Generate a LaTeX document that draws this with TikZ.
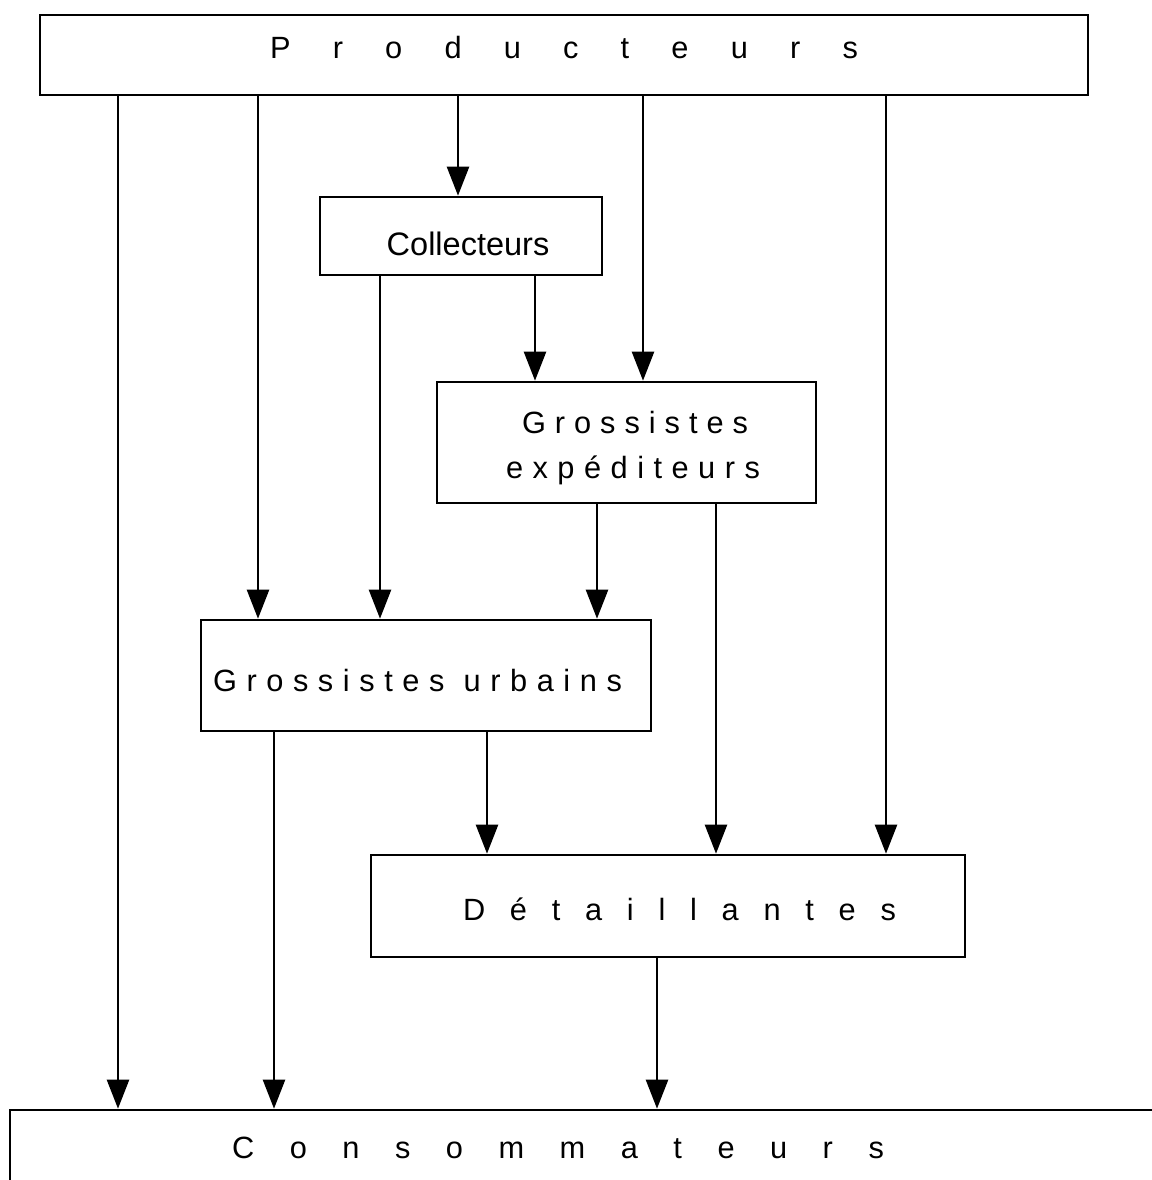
\documentclass[tikz,border=0pt]{standalone}
\usepackage{fontspec}
\setmainfont{Liberation Sans}
\usetikzlibrary{arrows.meta}
\begin{document}
\begin{tikzpicture}[x=0.02cm,y=-0.02cm,
  box/.style={draw,line width=1.5pt,rectangle,inner sep=0pt},
  lbl/.style={anchor=base,inner sep=0pt,font=\fontsize{17.5}{19}\selectfont},
  arr/.style={line width=1.4pt,-{Triangle[length=0.58cm,width=0.44cm]}}]
\useasboundingbox (0,0) rectangle (1152,1180);
% boxes
\node[box,minimum width=20.96cm,minimum height=1.6cm] (prod) at (564,55) {};
\node[box,minimum width=5.64cm,minimum height=1.56cm] (coll) at (461,236) {};
\node[box,minimum width=7.58cm,minimum height=2.42cm] (exp) at (626.5,442.5) {};
\node[box,minimum width=9.0cm,minimum height=2.22cm] (urb) at (426,675.5) {};
\node[box,minimum width=11.88cm,minimum height=2.04cm] (det) at (668,906) {};
\node[box,minimum width=24cm,minimum height=2.8cm] (cons) at (610,1180) {};
% labels
\node[lbl] (tprod) at (564,58) {\makebox[11.76cm][s]{P\hfill r\hfill o\hfill d\hfill u\hfill c\hfill t\hfill e\hfill u\hfill r\hfill s}};
\node[lbl,font=\fontsize{18.5}{20}\selectfont] (tcoll) at (468,255) {Collecteurs};
\node[lbl] (texp1) at (635,433) {\makebox[4.52cm][s]{G\hfill r\hfill o\hfill s\hfill s\hfill i\hfill s\hfill t\hfill e\hfill s}};
\node[lbl] (texp2) at (633,478) {\makebox[5.08cm][s]{e\hfill x\hfill p\hfill é\hfill d\hfill i\hfill t\hfill e\hfill u\hfill r\hfill s}};
\node[lbl] (turb) at (417.5,691) {\makebox[8.18cm][s]{G\hfill r\hfill o\hfill s\hfill s\hfill i\hfill s\hfill t\hfill e\hfill s\hfill\hfill u\hfill r\hfill b\hfill a\hfill i\hfill n\hfill s}};
\node[lbl] (tdet) at (679.5,920) {\makebox[8.66cm][s]{D\hfill é\hfill t\hfill a\hfill i\hfill l\hfill l\hfill a\hfill n\hfill t\hfill e\hfill s}};
\node[lbl] (tcons) at (558,1158) {\makebox[13.04cm][s]{C\hfill o\hfill n\hfill s\hfill o\hfill m\hfill m\hfill a\hfill t\hfill e\hfill u\hfill r\hfill s}};
% connector x positions
\coordinate (a1) at (118,0);
\coordinate (a2) at (258,0);
\coordinate (a3) at (458,0);
\coordinate (a4) at (643,0);
\coordinate (a5) at (886,0);
\coordinate (b1) at (380,0);
\coordinate (b2) at (535,0);
\coordinate (c1) at (597,0);
\coordinate (c2) at (716,0);
\coordinate (d1) at (274,0);
\coordinate (d2) at (487,0);
\coordinate (e1) at (657,0);
% connectors
\draw[arr] (a1 |- prod.south) -- (a1 |- cons.north);
\draw[arr] (a2 |- prod.south) -- (a2 |- urb.north);
\draw[arr] (a3 |- prod.south) -- (a3 |- coll.north);
\draw[arr] (a4 |- prod.south) -- (a4 |- exp.north);
\draw[arr] (a5 |- prod.south) -- (a5 |- det.north);
\draw[arr] (b1 |- coll.south) -- (b1 |- urb.north);
\draw[arr] (b2 |- coll.south) -- (b2 |- exp.north);
\draw[arr] (c1 |- exp.south) -- (c1 |- urb.north);
\draw[arr] (c2 |- exp.south) -- (c2 |- det.north);
\draw[arr] (d1 |- urb.south) -- (d1 |- cons.north);
\draw[arr] (d2 |- urb.south) -- (d2 |- det.north);
\draw[arr] (e1 |- det.south) -- (e1 |- cons.north);
\end{tikzpicture}
\end{document}
